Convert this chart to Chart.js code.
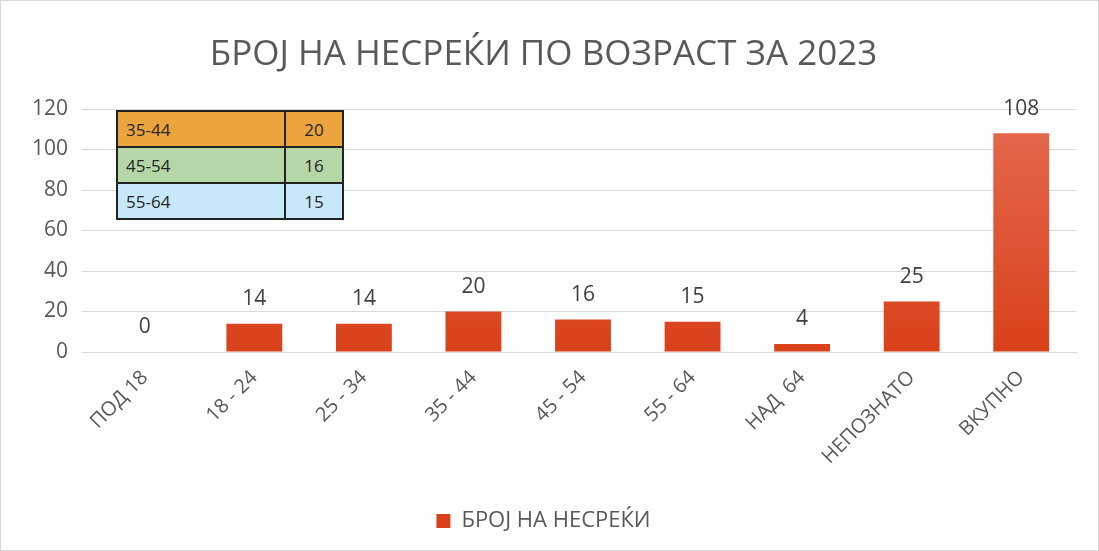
<!DOCTYPE html>
<html>
<head>
<meta charset="utf-8">
<script src="https://cdn.jsdelivr.net/npm/chart.js@4.4.0/dist/chart.umd.min.js"></script>
<style>
  body { margin: 0; background: #fff; font-family: "Open Sans", sans-serif; }
  #wrap { position: relative; width: 1099px; height: 551px; box-sizing: border-box; border: 1px solid #d9d9d9; }
  #ageTable { position: absolute; left: 115px; top: 109px; border-collapse: collapse; font-size: 17px; color: #262626; }
  #ageTable td { border: 2px solid #222; height: 34px; padding: 0 8px; }
  #ageTable td.num { width: 40px; text-align: center; }
  #ageTable td.lbl { width: 150px; }
</style>
</head>
<body>
<div id="wrap">
  <canvas id="chart" width="1097" height="549"></canvas>
  <table id="ageTable"></table>
</div>
<script>
  const categories = ['ПОД 18', '18 - 24', '25 - 34', '35 - 44', '45 - 54', '55 - 64', 'НАД  64', 'НЕПОЗНАТО', 'ВКУПНО'];
  const accidents = [0, 14, 14, 20, 16, 15, 4, 25, 108];
  const yTicks = [0, 20, 40, 60, 80, 100, 120];

  // little table in the corner
  const tableLabels = ['35-44', '45-54', '55-64'];
  const tableValues = [20, 16, 15];
  const tableColors = ['#eca43f', '#b5d7a8', '#c7e8f8'];

  const table = document.getElementById('ageTable');
  tableLabels.forEach((lbl, i) => {
    const tr = document.createElement('tr');
    tr.style.background = tableColors[i];
    tr.innerHTML = `<td class="lbl">${lbl}</td><td class="num">${tableValues[i]}</td>`;
    table.appendChild(tr);
  });

  const valueLabels = {
    id: 'valueLabels',
    afterDatasetsDraw(chart) {
      const ctx = chart.ctx;
      const meta = chart.getDatasetMeta(0);
      ctx.save();
      ctx.font = '21px "Open Sans"';
      ctx.fillStyle = '#404040';
      ctx.textAlign = 'center';
      ctx.textBaseline = 'bottom';
      meta.data.forEach((bar, i) => {
        ctx.fillText(String(accidents[i]), bar.x, bar.y - 14);
      });
      ctx.restore();
    }
  };

  const ctx = document.getElementById('chart').getContext('2d');
  const chart = new Chart(ctx, {
    type: 'bar',
    data: {
      labels: categories,
      datasets: [{
        label: 'БРОЈ НА НЕСРЕЌИ',
        data: accidents,
        backgroundColor: (c) => {
          const area = c.chart.chartArea;
          if (!area) return '#e04a22';
          const g = c.chart.ctx.createLinearGradient(0, area.top, 0, area.bottom);
          g.addColorStop(0, '#e56b52');
          g.addColorStop(1, '#d9411a');
          return g;
        },
        barPercentage: 0.51,
        categoryPercentage: 1
      }]
    },
    options: {
      responsive: false,
      animation: false,
      layout: { padding: { left: 10, right: 22, top: 0, bottom: 8 } },
      plugins: {
        title: {
          display: true,
          text: 'БРОЈ НА НЕСРЕЌИ ПО ВОЗРАСТ ЗА 2023',
          color: '#595959',
          font: { family: 'Open Sans', size: 35, weight: 'normal' },
          padding: { top: 33, bottom: 33 }
        },
        legend: {
          position: 'bottom',
          labels: {
            color: '#595959',
            font: { family: 'Open Sans', size: 22 },
            boxWidth: 14,
            boxHeight: 14,
            padding: 10
          }
        },
        tooltip: { enabled: false }
      },
      scales: {
        x: {
          grid: { display: false },
          border: { color: '#d9d9d9' },
          ticks: {
            color: '#595959',
            font: { family: 'Open Sans', size: 20 },
            minRotation: 45,
            maxRotation: 45,
            padding: 6
          },
          afterFit: (s) => { s.height = 148; }
        },
        y: {
          min: 0,
          max: 120,
          afterBuildTicks: (s) => { s.ticks = yTicks.map(v => ({ value: v })); },
          grid: { color: '#d9d9d9' },
          border: { display: false },
          ticks: {
            color: '#595959',
            font: { family: 'Open Sans', size: 21 },
            padding: 14
          },
          afterFit: (s) => { s.width = 79; }
        }
      }
    },
    plugins: [valueLabels]
  });
</script>
</body>
</html>
